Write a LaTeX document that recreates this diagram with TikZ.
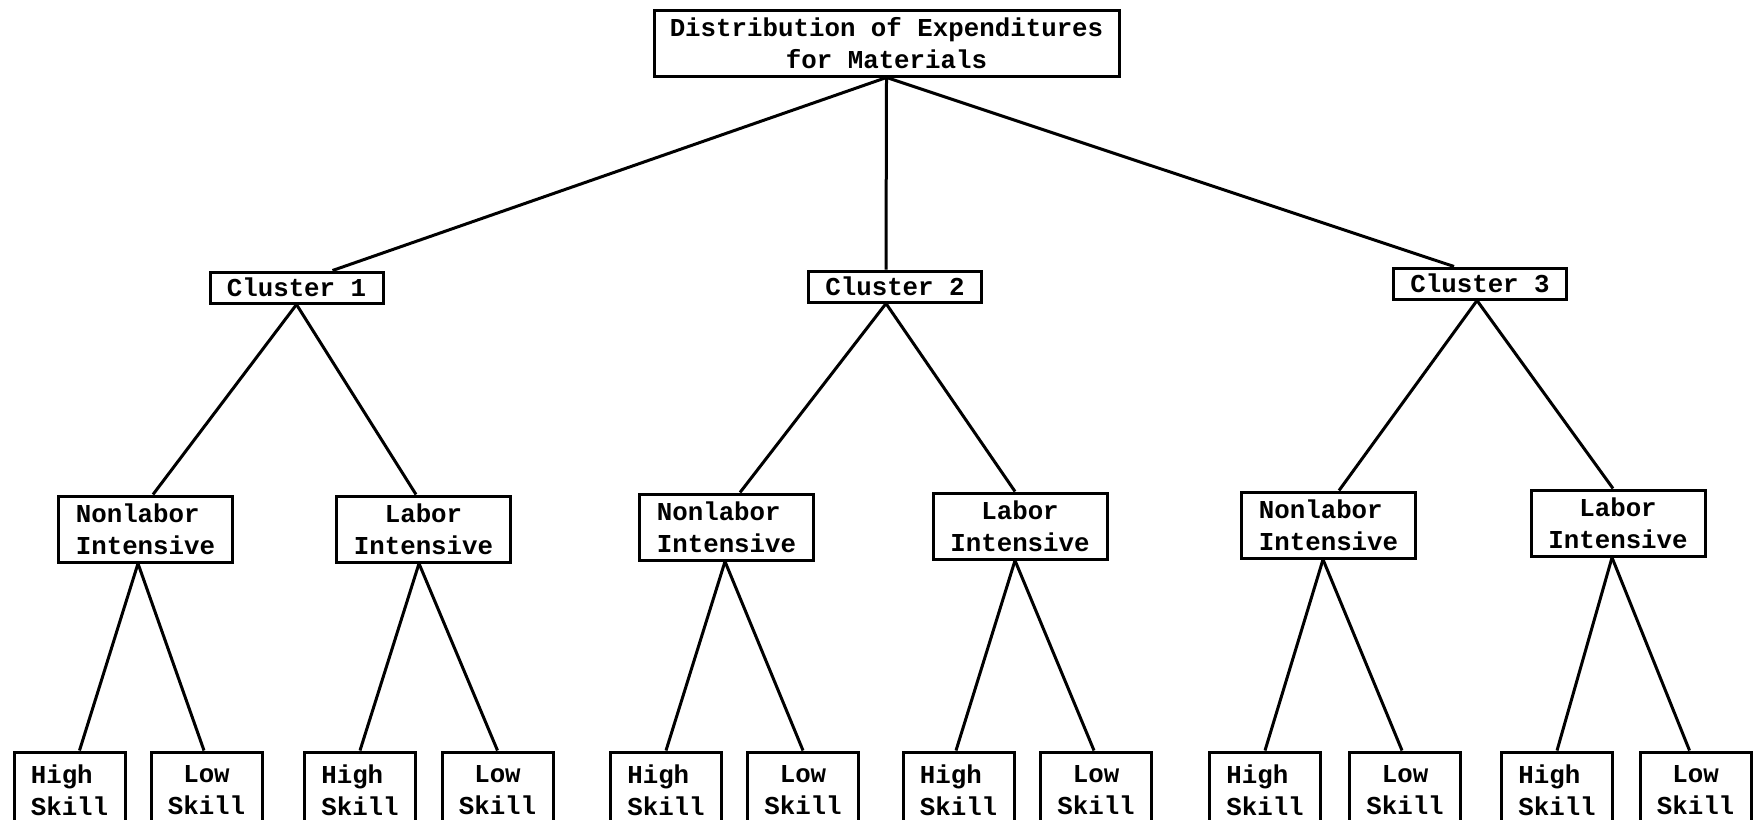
\documentclass[tikz,border=0pt]{standalone}
\usepackage{fontspec}
\setmonofont{Liberation Mono}
\begin{document}
\begin{tikzpicture}[x=0.5pt,y=-0.5pt,
  box/.style={draw, line width=1.5pt, inner sep=0pt, font=\ttfamily\bfseries\fontsize{12.9}{16}\selectfont},
  topbox/.style={box, minimum width=232.5pt, minimum height=33pt, align=center},
  clbox/.style={box, minimum width=86.5pt, minimum height=15.5pt},
  midbox/.style={box, minimum width=87pt, minimum height=33pt},
  botbox/.style={box, minimum width=55.5pt, minimum height=38pt},
  link/.style={line width=1.5pt}]
\useasboundingbox (0,0) rectangle (1754,819);
\clip (0,0) rectangle (1754,819);
\fill[white] (0,0) rectangle (1754,819);
% top
\node[topbox] (top) at (886.5,43) {Distribution of Expenditures\\for Materials};
% clusters
\node[clbox] (c1) at (296.5,287.5) {Cluster 1};
\node[clbox] (c2) at (895,286.5) {Cluster 2};
\node[clbox] (c3) at (1480,283.5) {Cluster 3};
% middle
\node[midbox, align=left] (n1) at (145.5,529) {Nonlabor\\Intensive};
\node[midbox, align=center] (l1) at (423.5,529) {Labor\\Intensive};
\node[midbox, align=left] (n2) at (726.5,527) {Nonlabor\\Intensive};
\node[midbox, align=center] (l2) at (1020,526) {Labor\\Intensive};
\node[midbox, align=left] (n3) at (1328.5,525) {Nonlabor\\Intensive};
\node[midbox, align=center] (l3) at (1618,523) {Labor\\Intensive};
% bottom
\node[botbox, align=left] (h1) at (69.5,790) {High\\Skill};
\node[botbox, align=center] (w1) at (206.5,790) {Low\\Skill};
\node[botbox, align=left] (h2) at (360,790) {High\\Skill};
\node[botbox, align=center] (w2) at (497.5,790) {Low\\Skill};
\node[botbox, align=left] (h3) at (666,790) {High\\Skill};
\node[botbox, align=center] (w3) at (803,790) {Low\\Skill};
\node[botbox, align=left] (h4) at (958.5,790) {High\\Skill};
\node[botbox, align=center] (w4) at (1096,790) {Low\\Skill};
\node[botbox, align=left] (h5) at (1265,790) {High\\Skill};
\node[botbox, align=center] (w5) at (1405,790) {Low\\Skill};
\node[botbox, align=left] (h6) at (1557,790) {High\\Skill};
\node[botbox, align=center] (w6) at (1695.5,790) {Low\\Skill};
% connectors
\draw[link] (top.south) -- ([xshift=18pt]c1.north);
\draw[link] (top.south) -- ([xshift=-4.5pt]c2.north);
\draw[link] (top.south) -- ([xshift=-13pt]c3.north);
\draw[link] (c1.south) -- ([xshift=3.75pt]n1.north);
\draw[link] (c1.south) -- ([xshift=-3.75pt]l1.north);
\draw[link] ([xshift=-4.5pt]c2.south) -- ([xshift=6.75pt]n2.north);
\draw[link] ([xshift=-4.5pt]c2.south) -- ([xshift=-2.5pt]l2.north);
\draw[link] ([xshift=-1.5pt]c3.south) -- ([xshift=5.25pt]n3.north);
\draw[link] ([xshift=-1.5pt]c3.south) -- ([xshift=-2.5pt]l3.north);
\draw[link] ([xshift=-3.75pt]n1.south) -- ([xshift=5pt]h1.north);
\draw[link] ([xshift=-3.75pt]n1.south) -- ([xshift=-1.25pt]w1.north);
\draw[link] ([xshift=-2.25pt]l1.south) -- (h2.north);
\draw[link] ([xshift=-2.25pt]l1.south) -- (w2.north);
\draw[link] ([xshift=-0.75pt]n2.south) -- (h3.north);
\draw[link] ([xshift=-0.75pt]n2.south) -- (w3.north);
\draw[link] ([xshift=-2.5pt]l2.south) -- ([xshift=-1.25pt]h4.north);
\draw[link] ([xshift=-2.5pt]l2.south) -- ([xshift=-1pt]w4.north);
\draw[link] ([xshift=-2.75pt]n3.south) -- (h5.north);
\draw[link] ([xshift=-2.75pt]n3.south) -- ([xshift=-1.5pt]w5.north);
\draw[link] ([xshift=-3pt]l3.south) -- (h6.north);
\draw[link] ([xshift=-3pt]l3.south) -- ([xshift=-3pt]w6.north);
\end{tikzpicture}
\end{document}
